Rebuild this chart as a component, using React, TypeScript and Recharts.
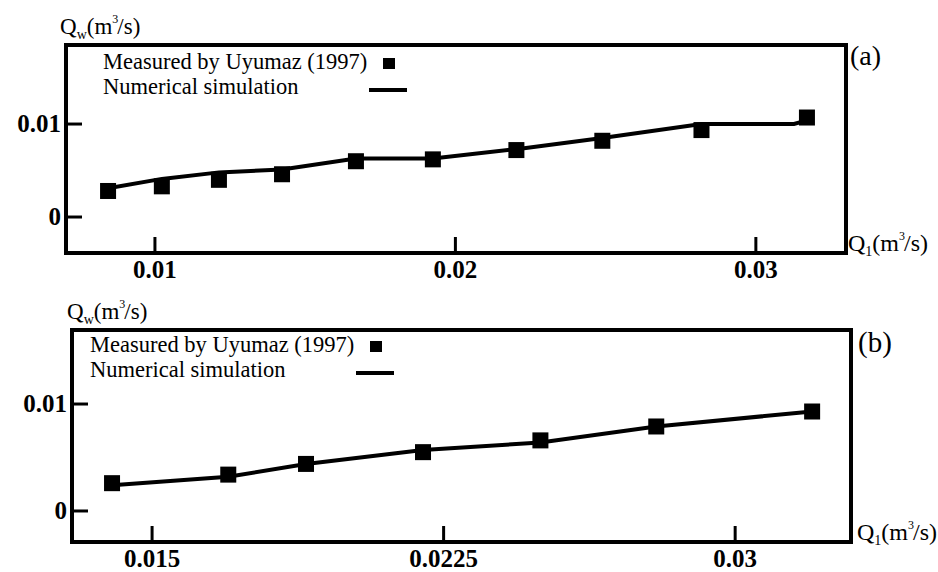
import React from "react";
import {
  ComposedChart,
  Line,
  Scatter,
  XAxis,
  YAxis,
  ReferenceArea,
  Legend,
} from "recharts";

const SERIF = "'Liberation Serif', 'Times New Roman', serif";

// panel (a)
const measuredAX = [0.00844, 0.01023, 0.01213, 0.01423, 0.01669, 0.01925, 0.02203, 0.02489, 0.02819, 0.0317];
const measuredAY = [0.0028, 0.0033, 0.004, 0.0046, 0.006, 0.0062, 0.0072, 0.0082, 0.00935, 0.0107];
const simAX = [0.00844, 0.01023, 0.01213, 0.01423, 0.01669, 0.01925, 0.02203, 0.02489, 0.02819, 0.03127, 0.0317];
const simAY = [0.0031, 0.0041, 0.0048, 0.0051, 0.0063, 0.0063, 0.0073, 0.0085, 0.01, 0.01, 0.0104];
const ticksAX = [0.01, 0.02, 0.03];
const ticksAY = [0, 0.01];
const domainAX = [0.00704, 0.033];
const domainAY = [-0.00387, 0.0185];

// panel (b)
const measuredBX = [0.01397, 0.01696, 0.01896, 0.02197, 0.02499, 0.02797, 0.03198];
const measuredBY = [0.0026, 0.0034, 0.0044, 0.0055, 0.0066, 0.0079, 0.0093];
const simBX = [0.01397, 0.01696, 0.01896, 0.02197, 0.02499, 0.02797, 0.03198];
const simBY = [0.0024, 0.0032, 0.0044, 0.0057, 0.0064, 0.0079, 0.0093];
const ticksBX = [0.015, 0.0225, 0.03];
const ticksBY = [0, 0.01];
const domainBX = [0.01294, 0.03298];
const domainBY = [-0.0029, 0.01692];

const seriesNames = ["Measured by Uyumaz (1997)", "Numerical simulation"];

const toPoints = (xs: number[], ys: number[]) => xs.map((x, i) => ({ x, y: ys[i] }));

const YTick = (props: any) => {
  const { x, y, payload } = props;
  return (
    <g>
      <line x1={x} y1={y} x2={x + 16} y2={y} stroke="#000" strokeWidth={3} />
      <text x={x - 5} y={y + 8} textAnchor="end" fontFamily={SERIF} fontWeight="bold" fontSize={25} fill="#000">
        {payload.value}
      </text>
    </g>
  );
};

const XTick = (props: any) => {
  const { x, y, payload } = props;
  return (
    <g>
      <line x1={x} y1={y} x2={x} y2={y - 16} stroke="#000" strokeWidth={3} />
      <text x={x} y={y + 25} textAnchor="middle" fontFamily={SERIF} fontWeight="bold" fontSize={25} fill="#000">
        {payload.value}
      </text>
    </g>
  );
};

const renderLegend = (props: any) => {
  const items = [...(props.payload ?? [])].sort((a: any, b: any) =>
    a.type === "square" ? -1 : b.type === "square" ? 1 : 0
  );
  return (
    <div style={{ fontFamily: SERIF, fontSize: 22.5, lineHeight: "25px", color: "#000", width: 320 }}>
      {items.map((item: any) => (
        <div key={item.value} style={{ position: "relative", height: 25, whiteSpace: "nowrap" }}>
          <span>{item.value}</span>
          {item.type === "square" ? (
            <span style={{ position: "absolute", left: 280, top: 9, width: 12, height: 11, background: "#000" }} />
          ) : (
            <span style={{ position: "absolute", left: 266, top: 14, width: 38, height: 4, background: "#000" }} />
          )}
        </div>
      ))}
    </div>
  );
};

const squareShape = (p: any) => <rect x={p.cx - 8} y={p.cy - 8} width={16} height={16} fill="#000" />;

interface PanelProps {
  measured: { x: number; y: number }[];
  sim: { x: number; y: number }[];
  xTicks: number[];
  yTicks: number[];
  xDomain: number[];
  yDomain: number[];
  margin: { top: number; right: number; bottom: number; left: number };
  legendPos: { left: number; top: number };
}

function Panel({ measured, sim, xTicks, yTicks, xDomain, yDomain, margin, legendPos }: PanelProps) {
  return (
    <ComposedChart width={938} height={286} margin={margin}>
      <XAxis
        dataKey="x"
        type="number"
        domain={xDomain}
        allowDataOverflow
        ticks={xTicks}
        interval={0}
        height={1}
        tickSize={0}
        tickMargin={0}
        axisLine={false}
        tickLine={false}
        tick={<XTick />}
      />
      <YAxis
        dataKey="y"
        type="number"
        domain={yDomain}
        allowDataOverflow
        ticks={yTicks}
        interval={0}
        width={1}
        tickSize={0}
        tickMargin={0}
        axisLine={false}
        tickLine={false}
        tick={<YTick />}
      />
      <ReferenceArea
        x1={xDomain[0]}
        x2={xDomain[1]}
        y1={yDomain[0]}
        y2={yDomain[1]}
        fill="none"
        stroke="#000"
        strokeWidth={4}
        ifOverflow="visible"
      />
      <Line
        data={sim}
        dataKey="y"
        name={seriesNames[1]}
        type="linear"
        stroke="#000"
        strokeWidth={4}
        dot={false}
        legendType="line"
        isAnimationActive={false}
      />
      <Scatter
        data={measured}
        name={seriesNames[0]}
        fill="#000"
        shape={squareShape}
        legendType="square"
        isAnimationActive={false}
      />
      <Legend
        layout="vertical"
        align="center"
        verticalAlign="middle"
        content={renderLegend}
        wrapperStyle={{ left: legendPos.left, top: legendPos.top }}
      />
    </ComposedChart>
  );
}

// axis unit label, e.g. Q_w(m^3/s)
const UnitLabel = ({ x, y, size, sub }: { x: number; y: number; size: number; sub: string }) => (
  <text x={x} y={y} fontSize={size}>
    Q<tspan fontSize={14} dy={5}>{sub}</tspan>
    <tspan dy={-5}>(m</tspan>
    <tspan fontSize={12} dy={-11}>3</tspan>
    <tspan dy={11} dx={-1}>/s)</tspan>
  </text>
);

export default function App() {
  return (
    <div style={{ position: "absolute", left: 0, top: 0, width: 938, height: 572, background: "#fff" }}>
      <div style={{ position: "absolute", left: 0, top: 0 }}>
        <Panel
          measured={toPoints(measuredAX, measuredAY)}
          sim={toPoints(simAX, simAY)}
          xTicks={ticksAX}
          yTicks={ticksAY}
          xDomain={domainAX}
          yDomain={domainAY}
          margin={{ top: 45, right: 92, bottom: 32, left: 65 }}
          legendPos={{ left: 103, top: 49 }}
        />
      </div>
      <div style={{ position: "absolute", left: 0, top: 286 }}>
        <Panel
          measured={toPoints(measuredBX, measuredBY)}
          sim={toPoints(simBX, simBY)}
          xTicks={ticksBX}
          yTicks={ticksBY}
          xDomain={domainBX}
          yDomain={domainBY}
          margin={{ top: 44, right: 87, bottom: 29, left: 71 }}
          legendPos={{ left: 90, top: 46 }}
        />
      </div>
      <svg
        width={938}
        height={572}
        style={{ position: "absolute", left: 0, top: 0, pointerEvents: "none" }}
        fontFamily={SERIF}
        fill="#000"
      >
        <UnitLabel x={60} y={34} size={23} sub="w" />
        <text x={850} y={65} fontSize={28}>(a)</text>
        <UnitLabel x={848} y={251} size={24} sub="1" />

        <UnitLabel x={67} y={319} size={23} sub="w" />
        <text x={858} y={352} fontSize={29}>(b)</text>
        <UnitLabel x={857} y={540} size={24} sub="1" />
      </svg>
    </div>
  );
}
